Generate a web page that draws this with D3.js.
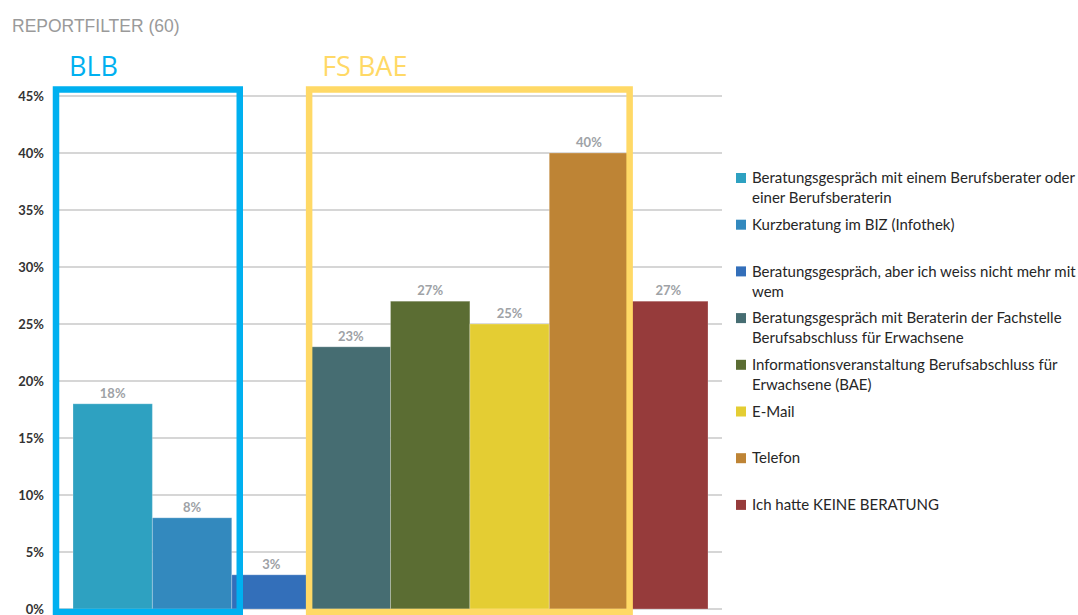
<!DOCTYPE html>
<html>
<head>
<meta charset="utf-8">
<script src="https://cdn.jsdelivr.net/npm/d3@7"></script>
<style>
  body { margin: 0; background: #fff; }
  svg { display: block; }
</style>
</head>
<body>
<div id="chart"></div>
<script>
// data
var categories = [
  "Beratungsgespräch mit einem Berufsberater oder\neiner Berufsberaterin",
  "Kurzberatung im BIZ (Infothek)",
  "Beratungsgespräch, aber ich weiss nicht mehr mit\nwem",
  "Beratungsgespräch mit Beraterin der Fachstelle\nBerufsabschluss für Erwachsene",
  "Informationsveranstaltung Berufsabschluss für\nErwachsene (BAE)",
  "E-Mail",
  "Telefon",
  "Ich hatte KEINE BERATUNG"
];
var values = [18, 8, 3, 23, 27, 25, 40, 27];
var colors = ["#2ea1c1", "#3389be", "#336fba", "#466d72", "#5b6d33", "#e4cd33", "#be8435", "#963b3b"];
var yTicks = [0, 5, 10, 15, 20, 25, 30, 35, 40, 45];

var width = 1078, height = 615;

var svg = d3.select("#chart").append("svg")
    .attr("width", width)
    .attr("height", height);

var x = d3.scaleBand()
    .domain(d3.range(categories.length))
    .range([73, 708])
    .paddingInner(0);

var y = d3.scaleLinear()
    .domain([0, 45])
    .range([609, 96]);

// title
svg.append("text")
    .attr("x", 12)
    .attr("y", 32)
    .attr("font-family", "Liberation Sans, Arial, sans-serif")
    .attr("font-size", 17.5)
    .attr("fill", "#9a9a9a")
    .text("REPORTFILTER (60)");

// gridlines
svg.append("g")
  .selectAll("line")
  .data(yTicks)
  .enter().append("line")
    .attr("x1", 59)
    .attr("x2", 722)
    .attr("y1", function(d) { return y(d); })
    .attr("y2", function(d) { return y(d); })
    .attr("stroke", "#c8c8c8")
    .attr("stroke-width", 1.5);

// y axis labels
svg.append("g")
  .selectAll("text")
  .data(yTicks)
  .enter().append("text")
    .attr("x", 44)
    .attr("y", function(d) { return y(d); })
    .attr("dy", "0.35em")
    .attr("text-anchor", "end")
    .attr("font-family", "Lato, sans-serif")
    .attr("font-weight", "bold")
    .attr("font-size", 13)
    .attr("fill", "#333")
    .text(function(d) { return d + "%"; });

// bars
svg.append("g")
  .selectAll("rect")
  .data(values)
  .enter().append("rect")
    .attr("x", function(d, i) { return x(i); })
    .attr("y", function(d) { return y(d); })
    .attr("width", x.bandwidth())
    .attr("height", function(d) { return y(0) - y(d); })
    .attr("fill", function(d, i) { return colors[i]; })
    .attr("stroke", "rgba(255,255,255,0.25)")
    .attr("stroke-width", 1);

// value labels
svg.append("g")
  .selectAll("text")
  .data(values)
  .enter().append("text")
    .attr("x", function(d, i) { return x(i) + x.bandwidth() / 2; })
    .attr("y", function(d) { return y(d) - 6; })
    .attr("text-anchor", "middle")
    .attr("font-family", "Lato, sans-serif")
    .attr("font-weight", "bold")
    .attr("font-size", 13)
    .attr("fill", "#9ea2a6")
    .text(function(d) { return d + "%"; });

// group frames
var frames = [
  {label: "BLB", color: "#00b0f0", x0: x(0) - 17, x1: x(1) + x.bandwidth() + 8},
  {label: "FS BAE", color: "#ffd966", x0: x(3) - 2, x1: x(6) + x.bandwidth() + 1}
];

svg.append("g")
  .selectAll("rect")
  .data(frames)
  .enter().append("rect")
    .attr("x", function(d) { return d.x0; })
    .attr("y", 89.5)
    .attr("width", function(d) { return d.x1 - d.x0; })
    .attr("height", 612 - 89.5)
    .attr("fill", "none")
    .attr("stroke", function(d) { return d.color; })
    .attr("stroke-width", 6.5);

svg.append("g")
  .selectAll("text")
  .data(frames)
  .enter().append("text")
    .attr("x", function(d) { return d.x0 + 13; })
    .attr("y", 76)
    .attr("font-family", "Open Sans, sans-serif")
    .attr("font-size", 27)
    .attr("fill", function(d) { return d.color; })
    .text(function(d) { return d.label; });

// legend
var legend = svg.append("g")
  .selectAll("g")
  .data(categories)
  .enter().append("g")
    .attr("transform", function(d, i) { return "translate(736," + (178 + i * 46.7) + ")"; });

legend.append("rect")
    .attr("x", 0)
    .attr("y", -5)
    .attr("width", 10)
    .attr("height", 10)
    .attr("fill", function(d, i) { return colors[i]; });

legend.append("text")
    .attr("font-family", "Lato, sans-serif")
    .attr("font-size", 15)
    .attr("fill", "#262626")
  .selectAll("tspan")
  .data(function(d) { return d.split("\n"); })
  .enter().append("tspan")
    .attr("x", 16)
    .attr("y", function(d, j) { return j * 20; })
    .attr("dy", "0.35em")
    .text(function(d) { return d; });
</script>
</body>
</html>
